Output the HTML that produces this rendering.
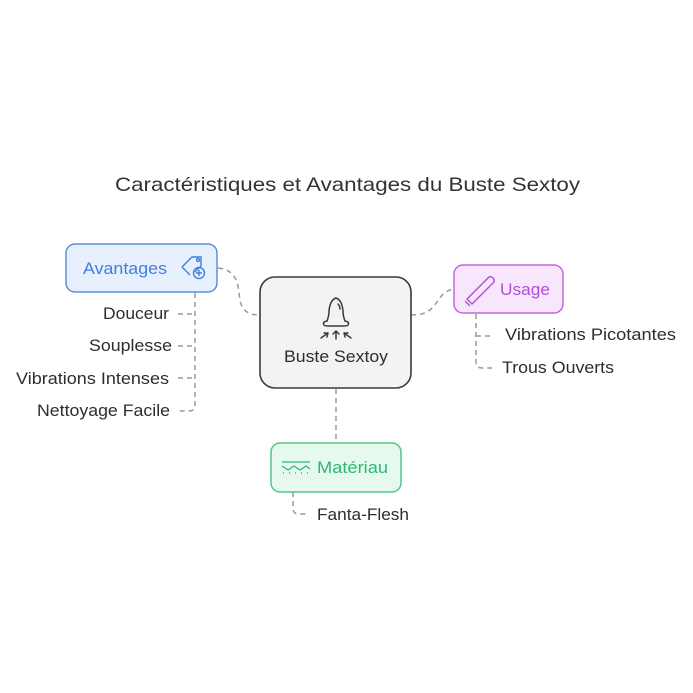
<!DOCTYPE html>
<html><head><meta charset="utf-8"><style>
html,body{margin:0;padding:0;background:#fff;}
svg{display:block;}
text{font-family:"Liberation Sans",sans-serif;}
</style></head><body>
<svg width="693" height="693" viewBox="0 0 693 693" xmlns="http://www.w3.org/2000/svg">
<rect width="693" height="693" fill="#fff"/>
<text x="115" y="191" font-size="19.5" fill="#333" textLength="465" lengthAdjust="spacingAndGlyphs">Caractéristiques et Avantages du Buste Sextoy</text>

<g fill="none" stroke="#9a9a9a" stroke-width="1.5" stroke-dasharray="5,4">
<path d="M218 268 C240 270 238 290 240 300 C242 312 250 315 260 315"/>
<path d="M411 315 C430 315 432 308 440 298 C444 292 448 290 454 289"/>
<path d="M336 389 L336 443"/>
<path d="M195 293 L195 405 Q195 411 189 411 L178 411"/>
<path d="M178 314 L195 314 M178 346 L195 346 M178 378 L195 378"/>
<path d="M476 314 L476 362 Q476 368 482 368 L494 368 M476 336 L494 336"/>
<path d="M293 492 L293 508 Q293 514 299 514 L309 514"/>
</g>

<rect x="66" y="244" width="151" height="48" rx="9" fill="#e8f0fd" stroke="#5a8fdf" stroke-width="1.5"/>
<text x="83" y="274" font-size="16.5" fill="#3f7fe0" textLength="84" lengthAdjust="spacingAndGlyphs">Avantages</text>
<g fill="none" stroke="#3f7fe0" stroke-width="1.4">
<path d="M182 267 L192 257 L201 257 L201 266 L195 272 M182 267 L190 275"/>
<circle cx="198" cy="260" r="1.5"/>
<circle cx="199" cy="273" r="5.5"/>
<path d="M199 270 L199 276 M196 273 L202 273"/>
</g>

<rect x="260" y="277" width="151" height="111" rx="15" fill="#f3f3f3" stroke="#3a3a3a" stroke-width="1.6"/>
<g fill="none" stroke="#3a3a3a" stroke-width="1.5" stroke-linecap="round" stroke-linejoin="round">
<path d="M327 321 Q329 316 329 311 Q330 300 336 298 Q342 300 343 311 Q343 316 345 321"/>
<path d="M327 321 Q322 322 324 325 Q325 326 328 326 L344 326 Q347 326 348 325 Q350 322 345 321"/>
<path d="M338 304 Q340 306 340 309"/>
<path d="M336 339 L336 331 M333 334 L336 331 L339 334"/>
<path d="M321 338 L328 333 M324 333 L328 333 L327 337"/>
<path d="M351 338 L344 333 M348 333 L344 333 L345 337"/>
</g>
<text x="284" y="362" font-size="16.5" fill="#2e2e2e" textLength="104" lengthAdjust="spacingAndGlyphs">Buste Sextoy</text>

<rect x="454" y="265" width="109" height="48" rx="9" fill="#f8e6fc" stroke="#c266de" stroke-width="1.5"/>
<g fill="none" stroke="#b04fd6" stroke-width="1.4" stroke-linejoin="round">
<path d="M467 299 L487 279 Q490 275 493 278 Q496 281 492 284 L472 304 Z M465 301 L470 306"/>
</g>
<text x="500" y="295" font-size="16.5" fill="#b04fd6" textLength="50" lengthAdjust="spacingAndGlyphs">Usage</text>

<rect x="271" y="443" width="130" height="49" rx="9" fill="#e6f9ef" stroke="#4cc98a" stroke-width="1.5"/>
<g fill="none" stroke="#2db874" stroke-width="1.2">
<path d="M282 462 L310 462 M282 466 L288 470 L294 466 L300 470 L306 466 L310 469"/>
<path d="M283 473 L284 473 M289 473 L290 473 M295 473 L296 473 M301 473 L302 473 M307 473 L308 473" stroke-width="1.4"/>
</g>
<text x="317" y="473" font-size="16.5" fill="#2db874" textLength="71" lengthAdjust="spacingAndGlyphs">Matériau</text>

<g font-size="16.5" fill="#2e2e2e">
<text x="103" y="319" textLength="66" lengthAdjust="spacingAndGlyphs">Douceur</text>
<text x="89" y="351" textLength="83" lengthAdjust="spacingAndGlyphs">Souplesse</text>
<text x="16" y="384" textLength="153" lengthAdjust="spacingAndGlyphs">Vibrations Intenses</text>
<text x="37" y="416" textLength="133" lengthAdjust="spacingAndGlyphs">Nettoyage Facile</text>
<text x="505" y="340" textLength="171" lengthAdjust="spacingAndGlyphs">Vibrations Picotantes</text>
<text x="502" y="373" textLength="112" lengthAdjust="spacingAndGlyphs">Trous Ouverts</text>
<text x="317" y="520" textLength="92" lengthAdjust="spacingAndGlyphs">Fanta-Flesh</text>
</g>
</svg>
</body></html>
